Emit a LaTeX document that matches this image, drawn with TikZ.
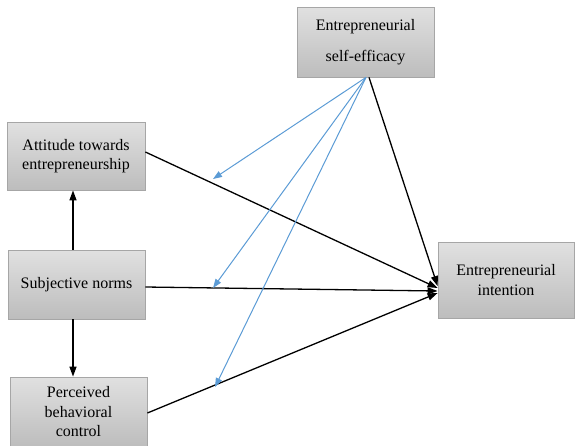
\documentclass[tikz,border=0pt]{standalone}
\usepackage{fontspec}
\setmainfont{Liberation Serif}
\usetikzlibrary{arrows.meta,calc}
\definecolor{lineblue}{HTML}{5B9BD5}
\definecolor{boxedge}{HTML}{A6A6A6}
\tikzset{
  box/.style={rectangle, draw=boxedge, line width=0.8pt, top color=black!12, bottom color=black!26,
    align=center, inner sep=0pt, font=\fontsize{16}{19.5}\selectfont},
  blk/.style={draw=black, line width=1.3pt, -{Triangle[length=10pt,width=7pt]}},
  blu/.style={draw=lineblue, line width=1pt, -{Triangle[length=9pt,width=6.5pt]}}
}
\begin{document}
\begin{tikzpicture}[x=1pt,y=-1pt]
\useasboundingbox (0,0) rectangle (575,445);
\node[box, minimum width=137pt, minimum height=70pt] (ese) at (365.5,42) {Entrepreneurial\\[12pt]self-efficacy};
\node[box, minimum width=138pt, minimum height=68pt] (att) at (76,156) {Attitude towards\\entrepreneurship};
\node[box, minimum width=137pt, minimum height=69pt] (sn) at (76.5,284.5) {Subjective norms};
\node[box, minimum width=137pt, minimum height=70pt] (pbc) at (78.5,412) {Perceived\\behavioral\\control};
\node[box, minimum width=136pt, minimum height=76pt] (int) at (506,280) {Entrepreneurial\\intention};
\coordinate (b1) at (213,179);
\coordinate (b2) at (213,288);
\coordinate (b3) at (215,387);
% black paths to intention
\draw[blk] ($(ese.south)+(3.5,0)$) -- ($(int.west)+(0,6)$);
\draw[blk] ($(att.east)+(0,-4)$) -- ($(int.west)+(0,8)$);
\draw[blk] ($(sn.east)+(0,2.5)$) -- ($(int.west)+(0,11)$);
\draw[blk] ($(pbc.east)+(0,1)$) -- ($(int.west)+(0,13)$);
% blue moderation arrows
\draw[blu] ($(ese.south)+(0.5,0)$) -- (b1);
\draw[blu] ($(ese.south)+(0.5,0)$) -- (b2);
\draw[blu] ($(ese.south)+(0.5,0)$) -- (b3);
% vertical arrows
\draw[blk] ([xshift=-3.5pt]sn.north) -- ([xshift=-3.5pt]sn.north |- att.south);
\draw[blk] ([xshift=-3.5pt]sn.south) -- ([xshift=-3.5pt]sn.south |- pbc.north);
\end{tikzpicture}
\end{document}
